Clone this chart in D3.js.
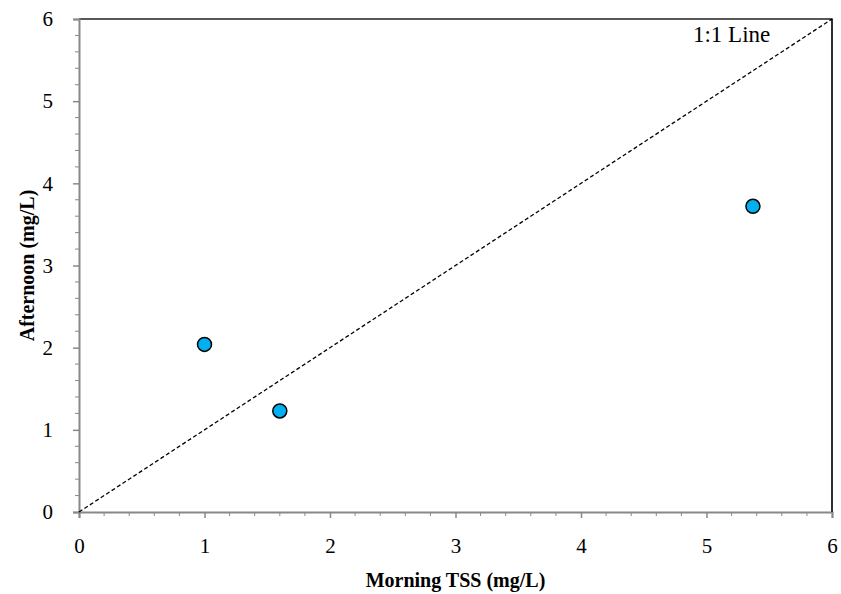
<!DOCTYPE html>
<html>
<head>
<meta charset="utf-8">
<script src="https://d3js.org/d3.v7.min.js"></script>
<style>
  body { margin: 0; background: #fff; }
  svg { display: block; font-family: "Liberation Serif", "Times New Roman", serif; }
</style>
</head>
<body>
<svg id="chart" width="841" height="594"></svg>
<script>
// ── Data ──
const morningTSS = [1.0, 1.6, 5.37];
const afternoonTSS = [2.04, 1.23, 3.72];
const majorTicks = [0, 1, 2, 3, 4, 5, 6];
const oneToOne = [[0, 0], [6, 6]];

const W = 841, H = 594;
const margin = { top: 19, right: 9, bottom: 82, left: 79 };
const iw = W - margin.left - margin.right;
const ih = H - margin.top - margin.bottom;
const FONT = '"Liberation Serif", "Times New Roman", serif';

const svg = d3.select('#chart');
const g = svg.append('g').attr('transform', `translate(${margin.left},${margin.top})`);

const x = d3.scaleLinear().domain([0, 6]).range([0, iw]);
const y = d3.scaleLinear().domain([0, 6]).range([ih, 0]);

// minor ticks every 0.2
const minorTicks = d3.range(0, 6.0001, 0.2).filter(v => Math.abs(v - Math.round(v)) > 1e-6);

// frame: top + right dark
g.append('path')
  .attr('d', `M0,0H${iw}V${ih}`)
  .attr('fill', 'none').attr('stroke', '#222').attr('stroke-width', 1.5);

// minor ticks
g.selectAll('.ymin').data(minorTicks).enter().append('line')
  .attr('x1', -4).attr('x2', 0).attr('y1', d => y(d)).attr('y2', d => y(d))
  .attr('stroke', '#888').attr('stroke-width', 1);
g.selectAll('.xmin').data(minorTicks).enter().append('line')
  .attr('y1', ih).attr('y2', ih + 4).attr('x1', d => x(d)).attr('x2', d => x(d))
  .attr('stroke', '#888').attr('stroke-width', 1);

// axes
const xAxis = g.append('g').attr('transform', `translate(0,${ih})`)
  .call(d3.axisBottom(x).tickValues(majorTicks).tickSize(6).tickPadding(20).tickFormat(d3.format('d')));
const yAxis = g.append('g')
  .call(d3.axisLeft(y).tickValues(majorTicks).tickSize(6).tickPadding(20).tickFormat(d3.format('d')));

[xAxis, yAxis].forEach(a => {
  a.attr('font-family', FONT).attr('font-size', 21);
  a.select('.domain').attr('stroke', '#888').attr('stroke-width', 2);
  a.selectAll('.tick line').attr('stroke', '#888').attr('stroke-width', 1.5);
  a.selectAll('.tick text').attr('fill', '#000');
});
// redraw the right edge on top of axis domain so it stays dark
g.append('line').attr('x1', iw).attr('x2', iw).attr('y1', 0).attr('y2', ih)
  .attr('stroke', '#222').attr('stroke-width', 1.5);

// 1:1 line
g.append('path').datum(oneToOne)
  .attr('d', d3.line().x(d => x(d[0])).y(d => y(d[1])))
  .attr('fill', 'none').attr('stroke', '#000').attr('stroke-width', 1.3)
  .attr('stroke-dasharray', '4,2.5');

g.append('text').attr('x', x(5.2)).attr('y', 23)
  .attr('text-anchor', 'middle').attr('font-size', '23px').attr('fill', '#000')
  .text('1:1 Line');

// points
g.selectAll('.pt').data(morningTSS.map((v, i) => [v, afternoonTSS[i]])).enter().append('circle')
  .attr('cx', d => x(d[0])).attr('cy', d => y(d[1])).attr('r', 7)
  .attr('fill', '#00B0F0').attr('stroke', '#000').attr('stroke-width', 1.5);

// axis titles
svg.append('text').attr('x', margin.left + iw / 2).attr('y', 587)
  .attr('text-anchor', 'middle').attr('font-size', '20px').attr('font-weight', 'bold')
  .text('Morning TSS (mg/L)');
svg.append('text')
  .attr('transform', `translate(27,${margin.top + ih / 2}) rotate(-90)`)
  .attr('text-anchor', 'middle').attr('dominant-baseline', 'central')
  .attr('font-size', '20px').attr('font-weight', 'bold')
  .text('Afternoon (mg/L)');
</script>
</body>
</html>
